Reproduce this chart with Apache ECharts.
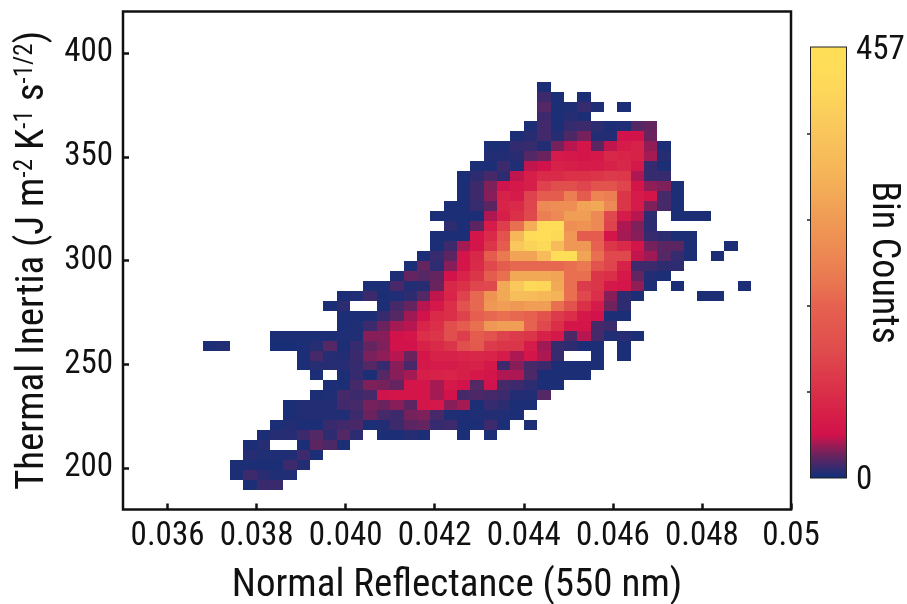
<!DOCTYPE html>
<html>
<head>
<meta charset="utf-8">
<style>
  html, body { margin: 0; padding: 0; background: #fff; }
  #chart-container { width: 907px; height: 604px; }
</style>
<script src="https://cdn.jsdelivr.net/npm/echarts@6/dist/echarts.min.js"></script>
</head>
<body>
<div id="chart-container"></div>
<script>
// bin edges of the 2D histogram (41 x 41)
const xStart = 0.0368;
const xStep = 0.0003;
const yTop = 386.2;
const yStep = 4.8;

const xTicks = [0.036, 0.038, 0.04, 0.042, 0.044, 0.046, 0.048, 0.05];
const xTickLabels = ['0.036', '0.038', '0.040', '0.042', '0.044', '0.046', '0.048', '0.05'];
const yTicks = [200, 250, 300, 350, 400];
const barTicks = [91.4, 182.8, 274.2, 365.6];
const barLabels = [0, 457];

// first occupied column of each row, top row first
const rowStart = [25, 25, 25, 25, 24, 23, 21, 21, 20, 19, 19, 19, 18, 17, 18, 17, 17, 16, 15, 14, 12,
  10, 9, 10, 10, 5, 0, 7, 7, 8, 9, 8, 6, 6, 5, 4, 3, 3, 2, 2, 3];

// counts per row, 0 = empty bin
const rowCounts = [
  [3],
  [12, 3, 0, 3],
  [18, 3, 4, 10, 4, 0, 3],
  [12, 3, 6, 3],
  [3, 13, 3, 10, 12, 8, 3, 4, 18, 22],
  [3, 7, 13, 6, 16, 26, 5, 5, 46, 48, 24],
  [3, 3, 9, 10, 5, 26, 40, 50, 20, 42, 60, 70, 32, 3],
  [5, 5, 7, 18, 24, 60, 55, 50, 55, 80, 75, 70, 36, 6],
  [3, 3, 12, 4, 42, 48, 70, 65, 60, 60, 70, 80, 55, 10, 3],
  [3, 8, 14, 8, 42, 65, 85, 85, 95, 95, 100, 110, 105, 38, 10, 10],
  [3, 12, 28, 45, 55, 65, 120, 140, 140, 125, 150, 150, 125, 50, 32, 28, 3],
  [3, 12, 30, 70, 60, 120, 170, 170, 220, 170, 230, 220, 100, 60, 50, 14, 3],
  [3, 3, 10, 20, 75, 85, 125, 240, 250, 250, 290, 300, 240, 100, 60, 28, 14, 3],
  [3, 3, 3, 3, 38, 65, 95, 130, 220, 240, 280, 280, 240, 130, 60, 40, 8, 0, 3, 3, 3],
  [8, 3, 20, 60, 115, 200, 310, 430, 440, 250, 260, 240, 120, 38, 28, 8],
  [3, 3, 3, 50, 85, 150, 330, 430, 457, 420, 270, 170, 170, 50, 36, 30, 10, 8, 3, 3],
  [3, 12, 36, 50, 100, 170, 370, 400, 420, 340, 270, 270, 180, 100, 85, 50, 26, 20, 20, 3, 0, 0, 3],
  [3, 10, 20, 50, 80, 170, 210, 290, 290, 340, 440, 450, 290, 200, 130, 130, 42, 35, 18, 10, 3, 0, 3],
  [3, 22, 8, 30, 50, 85, 130, 170, 190, 190, 190, 190, 200, 210, 150, 125, 70, 12, 12, 8, 8],
  [3, 22, 18, 22, 48, 75, 100, 170, 200, 300, 300, 300, 290, 200, 200, 100, 90, 55, 22, 5, 3],
  [3, 3, 15, 5, 6, 24, 80, 95, 125, 130, 300, 370, 420, 410, 300, 200, 110, 100, 55, 50, 32, 3, 0, 3, 0, 0, 0, 0, 3],
  [3, 4, 12, 3, 4, 8, 18, 42, 75, 120, 190, 260, 300, 345, 340, 330, 320, 200, 130, 90, 30, 8, 3, 0, 0, 0, 0, 3, 3],
  [3, 8, 0, 0, 3, 14, 22, 40, 55, 90, 150, 190, 270, 280, 270, 280, 280, 200, 150, 95, 60, 25, 8],
  [3, 3, 3, 10, 18, 35, 48, 85, 90, 120, 175, 190, 200, 190, 180, 150, 110, 90, 55, 46, 3, 3],
  [3, 4, 12, 24, 36, 40, 75, 90, 140, 170, 200, 270, 280, 280, 180, 130, 90, 50, 50, 14, 12],
  [3, 3, 3, 3, 3, 4, 4, 30, 30, 46, 50, 90, 100, 140, 115, 170, 150, 120, 110, 100, 70, 55, 16, 40, 14, 4, 6, 3],
  [3, 5, 0, 0, 0, 2, 2, 3, 6, 18, 3, 10, 22, 28, 46, 46, 70, 85, 100, 140, 165, 110, 100, 100, 60, 35, 10, 8, 3, 3, 0, 3],
  [3, 14, 6, 5, 11, 27, 31, 40, 24, 50, 70, 70, 75, 80, 75, 60, 38, 50, 38, 10, 0, 0, 3, 0, 3],
  [3, 6, 6, 6, 10, 18, 10, 30, 15, 55, 60, 60, 65, 70, 55, 12, 30, 14, 12, 3, 3, 3, 3],
  [3, 0, 3, 10, 3, 18, 30, 36, 65, 70, 75, 65, 55, 50, 38, 38, 16, 3, 3, 3, 3],
  [3, 3, 14, 28, 26, 22, 50, 50, 36, 55, 48, 18, 45, 14, 12, 8, 3, 3],
  [3, 4, 14, 12, 14, 45, 50, 50, 50, 36, 48, 14, 16, 14, 12, 5, 5, 18],
  [3, 5, 5, 5, 13, 14, 26, 24, 30, 20, 50, 55, 30, 36, 3, 10, 8, 3, 3],
  [3, 5, 5, 5, 4, 12, 24, 14, 12, 26, 28, 14, 4, 3, 4, 5, 4, 3],
  [3, 5, 3, 3, 11, 13, 15, 3, 5, 12, 20, 22, 10, 12, 3, 3, 12, 3, 0, 3],
  [3, 6, 6, 12, 18, 8, 18, 8, 0, 3, 3, 6, 3, 0, 0, 3, 0, 3],
  [3, 6, 0, 0, 3, 20, 16, 3],
  [6, 4, 4, 4, 12, 3],
  [3, 3, 3, 3, 12, 5],
  [3, 12, 7, 4, 4],
  [3, 11, 11]
];

const mapColors = ['#10307a', '#66245f', '#d2124b', '#d62048', '#da2f49', '#dd3e4b', '#e04d4d',
  '#e3574e', '#e6624f', '#e97551', '#ec8353', '#ee8f54', '#ef9a55', '#f2a756', '#f5b358',
  '#f7bc5a', '#f9c55c', '#fbce5b', '#fdd759', '#fedc58', '#fede57'];

const fontName = 'Roboto, "Liberation Sans", sans-serif';
const narrow = 'condensed'; // goes into the canvas font string

const cells = [];
rowCounts.forEach(function (row, r) {
  row.forEach(function (count, i) {
    if (count > 0) {
      const c = rowStart[r] + i;
      cells.push([xStart + c * xStep, yTop - r * yStep, count]);
    }
  });
});

function renderCell(params, api) {
  const a = api.coord([api.value(0), api.value(1)]);
  const b = api.coord([api.value(0) + xStep, api.value(1) - yStep]);
  const x0 = Math.round(a[0]), y0 = Math.round(a[1]);
  return {
    type: 'rect',
    shape: { x: x0, y: y0, width: Math.round(b[0]) - x0, height: Math.round(b[1]) - y0 },
    style: { fill: api.visual('color') }
  };
}

function renderBar(params, api) {
  const a = api.coord([0, barLabels[1]]);
  const b = api.coord([1, barLabels[0]]);
  const stops = mapColors.map(function (color, i) {
    return { offset: 1 - i / (mapColors.length - 1), color: color };
  }).reverse();
  return {
    type: 'rect',
    shape: { x: a[0], y: a[1], width: b[0] - a[0], height: b[1] - a[1] },
    style: { fill: new echarts.graphic.LinearGradient(0, 0, 0, 1, stops) }
  };
}

const chart = echarts.init(document.getElementById('chart-container'), null, { renderer: 'canvas' });

chart.setOption({
  animation: false,
  backgroundColor: '#fff',
  textStyle: { fontFamily: fontName },
  grid: [
    { left: 123, top: 11.5, width: 668, height: 498, outerBoundsMode: 'none', show: true, borderColor: '#111', borderWidth: 2.5, backgroundColor: '#fff' },
    { left: 811, top: 47.5, width: 35, height: 430, outerBoundsMode: 'none', show: true, borderColor: '#222', borderWidth: 2 }
  ],
  xAxis: [
    {
      type: 'value',
      min: 0.035,
      max: 0.05,
      name: 'Normal Reflectance (550 nm)',
      nameLocation: 'middle',
      nameGap: 57,
      nameTextStyle: { fontSize: 39, color: '#111', fontFamily: fontName, fontStyle: narrow },
      splitLine: { show: false },
      axisLine: { show: false },
      axisTick: { show: true, inside: true, length: 6, customValues: xTicks, lineStyle: { color: '#111', width: 2.5 } },
      axisLabel: {
        show: true,
        customValues: xTicks,
        margin: 11,
        fontSize: 33,
        color: '#111',
        fontFamily: fontName,
        fontStyle: narrow,
        formatter: function (v) {
          const i = xTicks.findIndex(function (t) { return Math.abs(t - v) < 1e-6; });
          return xTickLabels[i];
        }
      }
    },
    { gridIndex: 1, type: 'value', min: 0, max: 1, show: false }
  ],
  yAxis: [
    {
      type: 'value',
      min: 180,
      max: 420,
      name: '{n|Thermal Inertia (J m}{s|-2}{n| K}{s|-1}{n| s}{s|-1/2}{n|)}',
      nameLocation: 'middle',
      nameGap: 70,
      nameTextStyle: {
        color: '#111',
        rich: {
          n: { fontSize: 39, color: '#111', fontFamily: fontName, fontStyle: narrow, lineHeight: 40, verticalAlign: 'bottom' },
          s: { fontSize: 25, color: '#111', fontFamily: fontName, fontStyle: narrow, lineHeight: 40, verticalAlign: 'top' }
        }
      },
      splitLine: { show: false },
      axisLine: { show: false },
      axisTick: { show: true, inside: true, length: 6, customValues: yTicks, lineStyle: { color: '#111', width: 2.5 } },
      axisLabel: { show: true, customValues: yTicks, margin: 10, fontSize: 33, color: '#111', fontFamily: fontName, fontStyle: narrow }
    },
    {
      gridIndex: 1,
      type: 'value',
      position: 'right',
      min: 0,
      max: 457,
      name: 'Bin Counts',
      nameLocation: 'middle',
      nameRotate: -90,
      nameGap: 17,
      nameMoveOverlap: false,
      nameTextStyle: { fontSize: 38, color: '#111', fontFamily: fontName, fontStyle: narrow },
      splitLine: { show: false },
      axisLine: { show: false },
      axisTick: { show: true, inside: true, length: 4, customValues: barTicks, lineStyle: { color: '#222', width: 1.5 } },
      axisLabel: { show: true, customValues: barLabels, margin: 10, verticalAlign: 'top', lineHeight: 6, fontSize: 33, color: '#111', fontFamily: fontName, fontStyle: narrow }
    }
  ],
  visualMap: {
    show: false,
    type: 'continuous',
    seriesIndex: 0,
    dimension: 2,
    min: 0,
    max: 457,
    inRange: { color: mapColors }
  },
  series: [
    {
      type: 'custom',
      renderItem: renderCell,
      clip: true,
      encode: { x: 0, y: 1 },
      data: cells
    },
    {
      type: 'custom',
      xAxisIndex: 1,
      yAxisIndex: 1,
      renderItem: renderBar,
      encode: { x: 0, y: 1 },
      data: [[0, 0]]
    }
  ]
});
</script>
</body>
</html>
